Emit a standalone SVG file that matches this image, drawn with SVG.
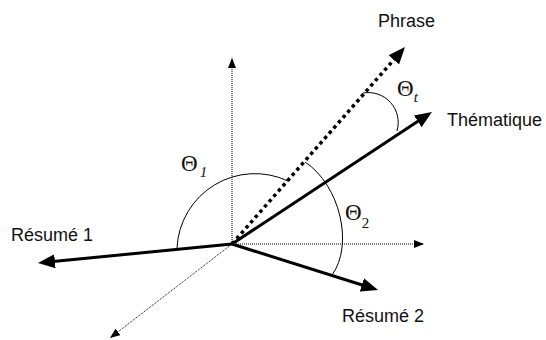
<svg xmlns="http://www.w3.org/2000/svg" width="546" height="340" viewBox="0 0 546 340">
  <style>
    .lbl { font-family: "Liberation Sans", Arial, sans-serif; font-size: 18px; fill: #111; }
    .th { font-family: "Liberation Serif", "Times New Roman", serif; font-size: 23px; fill: #111; }
    .sub { font-family: "Liberation Serif", "Times New Roman", serif; font-size: 15px; fill: #111; }
    .axis { stroke: #000; stroke-width: 1; stroke-dasharray: 1 1; fill: none; }
    .vec { stroke: #000; stroke-width: 3; fill: none; }
    .dotvec { stroke: #000; stroke-width: 3.5; stroke-dasharray: 3.5 3.5; fill: none; }
    .arc { stroke: #000; stroke-width: 1; fill: none; }
  </style>
  <defs>
    <marker id="big" markerUnits="userSpaceOnUse" markerWidth="18" markerHeight="14" refX="7" refY="7" orient="auto">
      <path d="M0,0 L17,7 L0,14 z" fill="#000"/>
    </marker>
    <marker id="small" markerUnits="userSpaceOnUse" markerWidth="11" markerHeight="8" refX="10" refY="4" orient="auto">
      <path d="M0,0 L10,4 L0,8 z" fill="#000"/>
    </marker>
  </defs>
  <rect width="546" height="340" fill="#fff"/>
  <g id="connectors">
    <line id="axis-y" class="axis" x1="232" y1="244" x2="232" y2="58" marker-end="url(#small)"/>
    <line id="axis-x" class="axis" x1="232" y1="244" x2="424" y2="244" marker-end="url(#small)"/>
    <line id="axis-z" class="axis" x1="232" y1="244" x2="110" y2="338" marker-end="url(#small)"/>
    <line id="v-resume1" class="vec" x1="232" y1="244" x2="47.95" y2="262" marker-end="url(#big)"/>
    <line id="v-resume2" class="vec" x1="232" y1="244" x2="368.5" y2="287" marker-end="url(#big)"/>
    <line id="v-thematique" class="vec" x1="232" y1="244" x2="423.6" y2="117.5" marker-end="url(#big)"/>
    <line id="v-phrase" class="dotvec" x1="232" y1="244" x2="398.4" y2="54.5" marker-end="url(#big)"/>
    <path id="arc-theta1" class="arc" d="M177,248 A78,78 0 0 1 288,181"/>
    <path id="arc-theta2" class="arc" d="M305,162 C340,185 354,245 332,275"/>
    <path id="arc-thetat" class="arc" d="M363,93 A30,30 0 0 1 397,131"/>
  </g>
  <g id="phrase"><text class="lbl" x="378" y="27">Phrase</text></g>
  <g id="thematique"><text class="lbl" x="447" y="126">Thématique</text></g>
  <g id="resume1"><text class="lbl" x="11" y="241">Résumé 1</text></g>
  <g id="resume2"><text class="lbl" x="342" y="322">Résumé 2</text></g>
  <g id="theta1"><text class="th" x="181" y="171">Θ<tspan class="sub" font-style="italic" dx="2" dy="6">1</tspan></text></g>
  <g id="theta2"><text class="th" x="345" y="219.5">Θ<tspan class="sub" dx="0" dy="8.5">2</tspan></text></g>
  <g id="thetat"><text class="th" x="397" y="95.5">Θ<tspan class="sub" font-style="italic" dx="0" dy="6">t</tspan></text></g>
</svg>
